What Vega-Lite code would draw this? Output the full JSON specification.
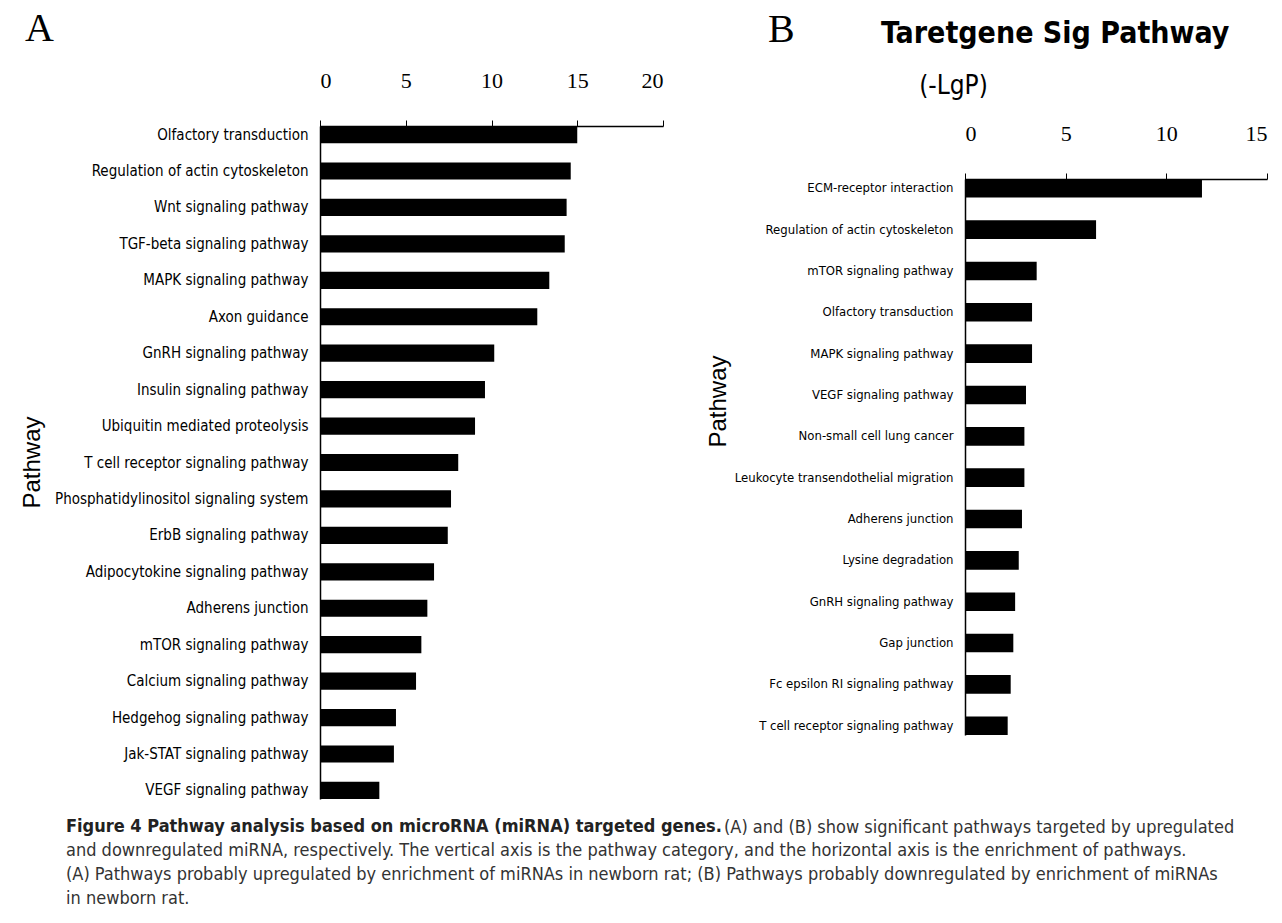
{
  "$schema": "https://vega.github.io/schema/vega-lite/v6.json",
  "background": "white",
  "padding": {"left": 20, "top": 8, "right": 5, "bottom": 5},
  "datasets": {
    "up": [
      {"pathway": "Olfactory transduction", "value": 15.0},
      {"pathway": "Regulation of actin cytoskeleton", "value": 14.62},
      {"pathway": "Wnt signaling pathway", "value": 14.38},
      {"pathway": "TGF-beta signaling pathway", "value": 14.27},
      {"pathway": "MAPK signaling pathway", "value": 13.37},
      {"pathway": "Axon guidance", "value": 12.67},
      {"pathway": "GnRH signaling pathway", "value": 10.16},
      {"pathway": "Insulin signaling pathway", "value": 9.62},
      {"pathway": "Ubiquitin mediated proteolysis", "value": 9.04},
      {"pathway": "T cell receptor signaling pathway", "value": 8.06},
      {"pathway": "Phosphatidylinositol signaling system", "value": 7.64},
      {"pathway": "ErbB signaling pathway", "value": 7.45},
      {"pathway": "Adipocytokine signaling pathway", "value": 6.65},
      {"pathway": "Adherens junction", "value": 6.26},
      {"pathway": "mTOR signaling pathway", "value": 5.91},
      {"pathway": "Calcium signaling pathway", "value": 5.6},
      {"pathway": "Hedgehog signaling pathway", "value": 4.43},
      {"pathway": "Jak-STAT signaling pathway", "value": 4.31},
      {"pathway": "VEGF signaling pathway", "value": 3.46}
    ],
    "down": [
      {"pathway": "ECM-receptor interaction", "value": 11.77},
      {"pathway": "Regulation of actin cytoskeleton", "value": 6.51},
      {"pathway": "mTOR signaling pathway", "value": 3.56},
      {"pathway": "Olfactory transduction", "value": 3.33},
      {"pathway": "MAPK signaling pathway", "value": 3.33},
      {"pathway": "VEGF signaling pathway", "value": 3.03},
      {"pathway": "Non-small cell lung cancer", "value": 2.95},
      {"pathway": "Leukocyte transendothelial migration", "value": 2.95},
      {"pathway": "Adherens junction", "value": 2.83},
      {"pathway": "Lysine degradation", "value": 2.67},
      {"pathway": "GnRH signaling pathway", "value": 2.49},
      {"pathway": "Gap junction", "value": 2.4},
      {"pathway": "Fc epsilon RI signaling pathway", "value": 2.27},
      {"pathway": "T cell receptor signaling pathway", "value": 2.12}
    ]
  },
  "title": {
    "text": "Figure 4 Pathway analysis based on microRNA (miRNA) targeted genes.",
    "orient": "bottom",
    "anchor": "start",
    "frame": "bounds",
    "font": "DejaVu Sans Condensed, sans-serif",
    "fontSize": 18,
    "fontWeight": "bold",
    "color": "#222222",
    "dx": 46,
    "offset": -90
  },
  "vconcat": [
    {
      "title": {
        "text": [
          "and downregulated miRNA, respectively. The vertical axis is the pathway category, and the horizontal axis is the enrichment of pathways.",
          "(A) Pathways probably upregulated by enrichment of miRNAs in newborn rat; (B) Pathways probably downregulated by enrichment of miRNAs",
          "in newborn rat."
        ],
        "orient": "bottom",
        "anchor": "start",
        "frame": "bounds",
        "font": "DejaVu Sans Condensed, sans-serif",
        "fontSize": 18,
        "fontWeight": "normal",
        "color": "#333333",
        "lineHeight": 24,
        "dx": 46,
        "offset": 5
      },
      "vconcat": [
        {
          "title": {
            "text": "(A) and (B) show significant pathways targeted by upregulated",
            "orient": "bottom",
            "anchor": "start",
            "frame": "bounds",
            "font": "DejaVu Sans Condensed, sans-serif",
            "fontSize": 18,
            "fontWeight": "normal",
            "color": "#333333",
            "dx": 704,
            "offset": 20
          },
          "spacing": 42,
          "hconcat": [
            {
              "spacing": 0,
              "vconcat": [
                {"width": 1, "height": 1, "data": {"values": []}, "mark": "point"},
                {
                  "width": 343,
                  "height": 673,
                  "title": {
                    "text": "A",
                    "font": "Liberation Serif",
                    "fontSize": 40,
                    "fontWeight": "normal",
                    "color": "black",
                    "anchor": "start",
                    "frame": "bounds",
                    "dx": 5,
                    "offset": 20
                  },
                  "data": {"name": "up"},
                  "mark": {"type": "bar", "color": "black"},
                  "encoding": {
                    "y": {
                      "field": "pathway",
                      "type": "nominal",
                      "sort": null,
                      "scale": {"paddingInner": 0.53, "paddingOuter": 0},
                      "axis": {
                        "title": "Pathway",
                        "titleFont": "Liberation Sans",
                        "titleFontSize": 24,
                        "titleFontWeight": "normal",
                        "titleColor": "black",
                        "titleX": -288,
                        "titleY": 336,
                        "titleBaseline": "middle",
                        "labelFont": "DejaVu Sans Condensed, sans-serif",
                        "labelFontSize": 15,
                        "labelLimit": 400,
                        "labelColor": "black",
                        "labelPadding": 12,
                        "ticks": false,
                        "domainColor": "black",
                        "domainWidth": 1.5
                      }
                    },
                    "x": {
                      "field": "value",
                      "type": "quantitative",
                      "scale": {"domain": [0, 20]},
                      "axis": {
                        "orient": "top",
                        "title": null,
                        "values": [0, 5, 10, 15, 20],
                        "grid": false,
                        "labelFont": "Liberation Serif",
                        "labelFontSize": 22,
                        "labelColor": "black",
                        "labelPadding": 28,
                        "tickSize": 6,
                        "tickColor": "black",
                        "domainColor": "black",
                        "domainWidth": 1.5
                      }
                    }
                  }
                }
              ]
            },
            {
              "title": {
                "text": "B",
                "font": "Liberation Serif",
                "fontSize": 40,
                "fontWeight": "normal",
                "color": "black",
                "anchor": "start",
                "frame": "bounds",
                "dx": 62,
                "offset": -42
              },
              "spacing": 0,
              "vconcat": [
                {"width": 1, "height": 11, "data": {"values": []}, "mark": "point"},
                {
                  "width": 302,
                  "height": 556,
                  "title": {
                    "text": "Taretgene Sig Pathway",
                    "font": "DejaVu Sans Condensed, sans-serif",
                    "fontSize": 30,
                    "fontWeight": "bold",
                    "color": "black",
                    "anchor": "start",
                    "frame": "group",
                    "dx": -84,
                    "offset": 23
                  },
                  "data": {"name": "down"},
                  "mark": {"type": "bar", "color": "black"},
                  "encoding": {
                    "y": {
                      "field": "pathway",
                      "type": "nominal",
                      "sort": null,
                      "scale": {"paddingInner": 0.55, "paddingOuter": 0},
                      "axis": {
                        "title": "Pathway",
                        "titleFont": "Liberation Sans",
                        "titleFontSize": 24,
                        "titleFontWeight": "normal",
                        "titleColor": "black",
                        "titleX": -247,
                        "titleY": 222,
                        "titleBaseline": "middle",
                        "labelFont": "DejaVu Sans Condensed, sans-serif",
                        "labelFontSize": 13,
                        "labelLimit": 400,
                        "labelColor": "black",
                        "labelPadding": 12,
                        "ticks": false,
                        "domainColor": "black",
                        "domainWidth": 1.5
                      }
                    },
                    "x": {
                      "field": "value",
                      "type": "quantitative",
                      "scale": {"domain": [0, 15]},
                      "axis": {
                        "orient": "top",
                        "title": "(-LgP)",
                        "titleFont": "DejaVu Sans Condensed, sans-serif",
                        "titleFontSize": 26,
                        "titleFontWeight": "normal",
                        "titleColor": "black",
                        "titleX": -12,
                        "titleY": -94,
                        "titleBaseline": "middle",
                        "titleAlign": "center",
                        "values": [0, 5, 10, 15],
                        "grid": false,
                        "labelFont": "Liberation Serif",
                        "labelFontSize": 22,
                        "labelColor": "black",
                        "labelPadding": 28,
                        "tickSize": 6,
                        "tickColor": "black",
                        "domainColor": "black",
                        "domainWidth": 1.5
                      }
                    }
                  }
                }
              ]
            }
          ]
        }
      ]
    }
  ],
  "config": {
    "view": {"stroke": null}
  }
}
